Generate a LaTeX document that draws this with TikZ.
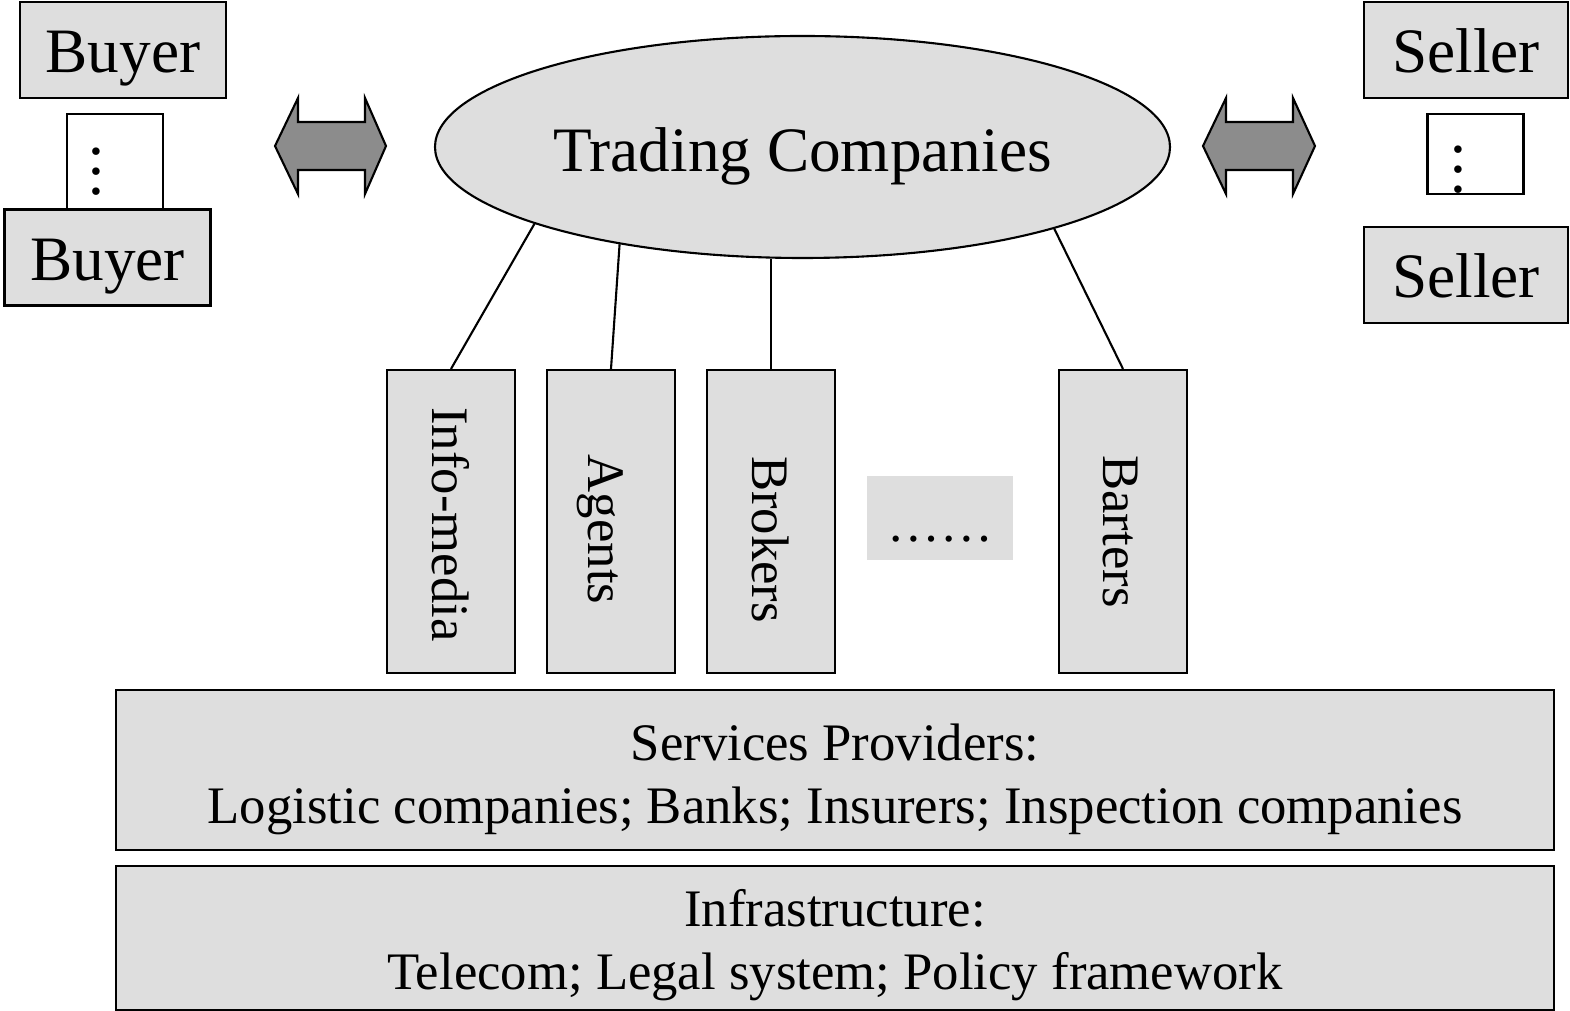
\documentclass[tikz,border=0pt]{standalone}
\usepackage{fontspec}
\setmainfont{Liberation Serif}
\usetikzlibrary{shapes.geometric}
\definecolor{boxgray}{RGB}{222,222,222}
\definecolor{arrgray}{RGB}{140,140,140}

\begin{document}
\begin{tikzpicture}[line width=0.6pt,
  party/.style={draw,fill=boxgray,inner sep=0pt,minimum width=2.06cm,minimum height=0.96cm,text height=0.46cm,text depth=0pt,font=\fontsize{18}{21}\selectfont},
  dotbox/.style={draw,fill=white,inner sep=0pt,minimum width=0.96cm},
  kind/.style={draw,fill=boxgray,inner sep=0pt,minimum width=1.28cm,minimum height=3.03cm},
  vtext/.style={rotate=-90,inner sep=0pt,font=\fontsize{15}{18}\selectfont},
  layer/.style={draw,fill=boxgray,inner sep=0pt,minimum width=14.38cm,align=center,font=\fontsize{15}{18}\selectfont},
  vdot/.style={align=center,font=\fontsize{18}{5.7}\selectfont},
  bigarrow/.style={draw,fill=arrgray,line join=miter}]
  \useasboundingbox (0,0) rectangle (15.7,-10.11);
  % buyers and sellers
  \node[party] (buyerA) at (1.23,-0.50) {Buyer};
  \node[dotbox,minimum height=0.96cm,label={[vdot,xshift=-0.19cm,yshift=-0.10cm]center:.\\.\\.}] (buyerdots) at (1.15,-1.62) {};
  \node[party] (buyerB) at (1.075,-2.575) {Buyer};
  \node[party,minimum width=2.04cm] (sellerA) at (14.66,-0.50) {Seller};
  \node[dotbox,minimum height=0.80cm,label={[vdot,xshift=-0.17cm,yshift=-0.16cm]center:.\\.\\.}] (sellerdots) at (14.755,-1.54) {};
  \node[party,minimum width=2.04cm] (sellerB) at (14.66,-2.75) {Seller};
  % trading companies
  \node[ellipse,draw,fill=boxgray,inner sep=0pt,minimum width=7.35cm,minimum height=2.22cm,text height=0.5cm,text depth=0pt,font=\fontsize{18}{21}\selectfont] (tc) at (8.025,-1.47) {Trading Companies};
  \foreach \x/\l in {2.75/0.21,12.03/0.22}
    \draw[bigarrow] (\x,-1.46) -- ++(0.23,0.48) -- ++(0,-0.24) -- ++(0.67,0) -- ++(0,0.24)
      -- ++(\l,-0.48) -- ++(-\l,-0.48) -- ++(0,0.24) -- ++(-0.67,0) -- ++(0,-0.24) -- cycle;
  % the label shifts are in the rotated frame
  \node[kind,label={[vtext,xshift=0.03cm]center:Info-media}] (info) at (4.51,-5.215) {};
  \node[kind,label={[vtext,xshift=0.08cm,yshift=-0.11cm]center:Agents}] (agents) at (6.11,-5.215) {};
  \node[kind,label={[vtext,xshift=0.18cm]center:Brokers}] (brokers) at (7.71,-5.215) {};
  \node[fill=boxgray,inner sep=0pt,minimum width=1.46cm,minimum height=0.84cm,text height=0.48cm,text depth=0pt,font=\fontsize{15}{18}\selectfont] (more) at (9.40,-5.18) {……};
  \node[kind,label={[vtext,xshift=0.10cm,yshift=-0.03cm]center:Barters}] (barters) at (11.23,-5.215) {};
  \draw (tc.196) -- (info.north);
  \draw (tc.208.4) -- (agents.north);
  \draw (brokers.north) -- (brokers.north |- tc.south);
  \draw (tc.342.9) -- (barters.north);
  % layers
  \node[layer,minimum height=1.60cm] (services) at (8.35,-7.70) {\rule{0pt}{0.56cm}Services Providers:\\Logistic companies; Banks; Insurers; Inspection companies};
  \node[layer,minimum height=1.44cm] (infra) at (8.35,-9.38) {\rule{0pt}{0.52cm}Infrastructure:\\Telecom; Legal system; Policy framework};
\end{tikzpicture}
\end{document}
